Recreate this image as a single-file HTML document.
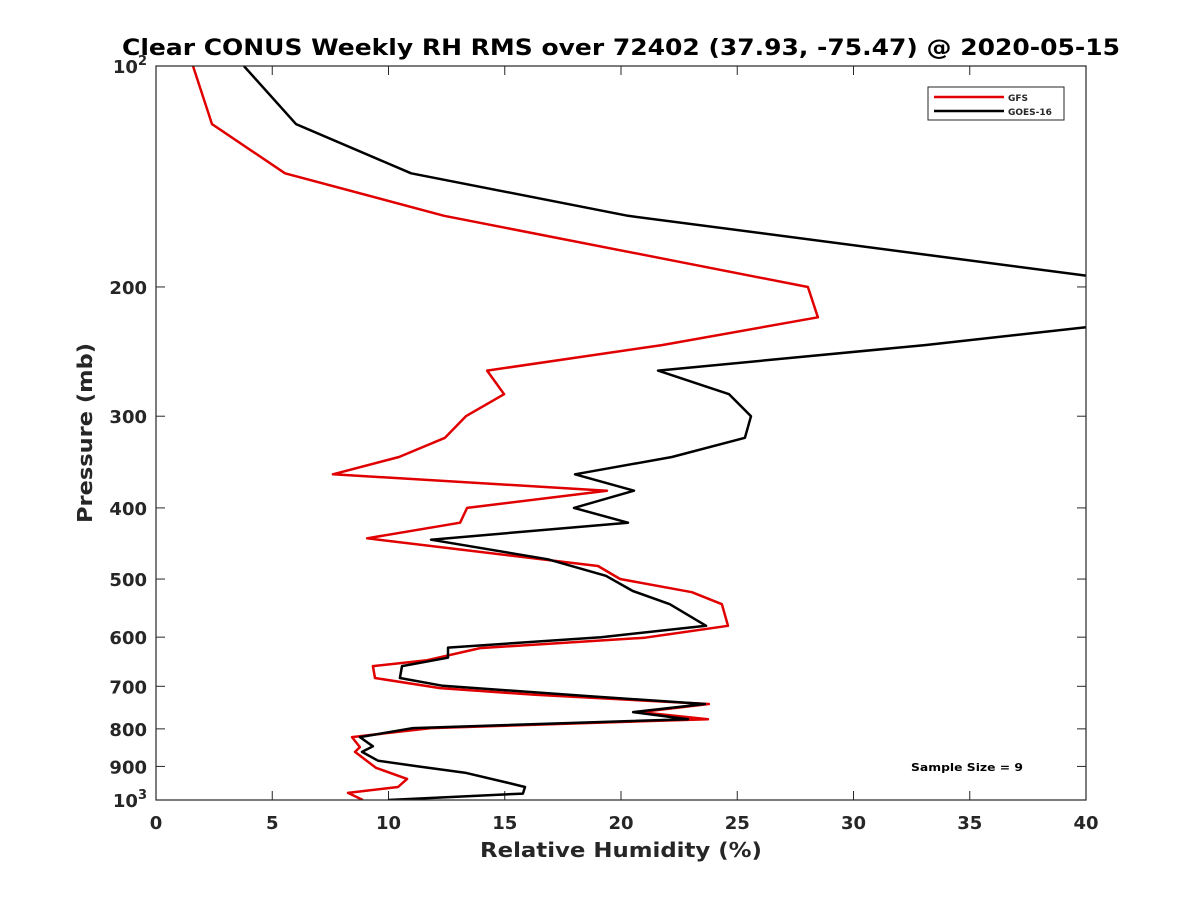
<!DOCTYPE html>
<html><head><meta charset="utf-8"><style>
body{margin:0;background:#fff;}
svg text{font-family:"DejaVu Sans","Liberation Sans",sans-serif;font-weight:bold;fill:#262626;}
</style></head><body>
<svg id="chart" width="1200" height="900" xmlns="http://www.w3.org/2000/svg">
<defs><clipPath id="clip"><rect x="156" y="66" width="930" height="734"/></clipPath></defs>
<rect width="1200" height="900" fill="#fff"/>
<text x="122" y="55" font-size="22" textLength="998" lengthAdjust="spacingAndGlyphs" style="fill:#000">Clear CONUS Weekly RH RMS over 72402 (37.93, -75.47) @ 2020-05-15</text>
<g id="axes"></g>
<g id="series" clip-path="url(#clip)"></g>
<rect x="156" y="66" width="930" height="734" fill="none" stroke="#262626" stroke-width="1.2"/>
<text x="480" y="857" font-size="20" textLength="282" lengthAdjust="spacingAndGlyphs">Relative Humidity (%)</text>
<text transform="translate(92,523) rotate(-90)" font-size="20" textLength="180" lengthAdjust="spacingAndGlyphs">Pressure (mb)</text>
<g>
<rect x="928" y="87" width="136" height="33" fill="#fff" stroke="#262626" stroke-width="1"/>
<line x1="934" y1="97" x2="1004" y2="97" stroke="#e00000" stroke-width="2.5"/>
<text x="1008" y="101" font-size="9">GFS</text>
<line x1="934" y1="111" x2="1004" y2="111" stroke="#000" stroke-width="2.5"/>
<text x="1008" y="115" font-size="9">GOES-16</text>
</g>
<text x="911" y="771" font-size="11" textLength="112" lengthAdjust="spacingAndGlyphs" style="fill:#000">Sample Size = 9</text>
</svg>
<script>
const xTicks=[0,5,10,15,20,25,30,35,40];
const yTicks=[100,200,300,400,500,600,700,800,900,1000];
const gfsP=[100,120,140,160,200,220,240,260,280,300,321,341,360,379,400,419,440,480,500,521,541,579,601,621,645,657,682,704,719,740,759,776,798,821,847,860,904,936,960,978,1000];
const gfsRH=[1.59,2.41,5.55,12.39,28.04,28.47,21.76,14.24,14.97,13.33,12.43,10.45,7.61,19.4,13.38,13.08,9.08,19.01,19.96,23.05,24.34,24.6,21.03,13.94,11.66,9.33,9.42,12.22,16.3,23.78,20.82,23.74,11.83,8.43,8.77,8.56,9.46,10.8,10.41,8.26,8.9];
const goesP=[100,120,140,160,193,208,227,240,260,280,300,321,341,360,379,400,419,442,470,495,519,541,579,600,620,640,657,682,699,722,740,759,776,798,821,845,860,884,900,918,944,960,980,1000];
const goesRH=[3.78,6.02,10.97,20.3,40,55,40,33.07,21.59,24.65,25.59,25.33,22.19,18.02,20.56,17.98,20.3,11.83,16.86,19.35,20.5,22.1,23.66,19.14,12.56,12.56,10.58,10.49,12.34,18.67,23.61,20.52,22.88,11.05,8.77,9.33,8.86,9.55,11.27,13.29,14.92,15.87,15.78,9.98];
const X0=156,X1=1086,Y0=66,Y1=800;
const xs=v=>X0+(v/40)*(X1-X0);
const ys=p=>Y0+(Math.log10(p)-2)*(Y1-Y0);
const NS="http://www.w3.org/2000/svg";
const axes=document.getElementById('axes'),ser=document.getElementById('series');
function mk(t,a,parent){const e=document.createElementNS(NS,t);for(const k in a)e.setAttribute(k,a[k]);parent.appendChild(e);return e;}
xTicks.forEach(v=>{const x=xs(v);
 const t1=mk('line',{x1:x,y1:Y1,x2:x,y2:Y1-9,stroke:'#262626'},axes);
 
 
 mk('line',{x1:x,y1:Y0,x2:x,y2:Y0+9,stroke:'#262626'},axes);
 const tx=mk('text',{x:x,y:829,'text-anchor':'middle','font-size':18},axes);tx.textContent=v;
 
 
});
yTicks.forEach(p=>{const y=ys(p);
 const t1=mk('line',{x1:X0,y1:y,x2:X0+9,y2:y,stroke:'#262626'},axes);
 
 
 mk('line',{x1:X1,y1:y,x2:X1-9,y2:y,stroke:'#262626'},axes);
 const tx=mk('text',{x:147,y:y+7,'text-anchor':'end','font-size':18},axes);
 if(p===100||p===1000){tx.innerHTML='10<tspan dy="-8" font-size="13">'+(p===100?2:3)+'</tspan>';}
 else tx.textContent=p;
 
 
});
function line(P,V,color,name){
 const pts=P.map((p,i)=>xs(V[i]).toFixed(1)+','+ys(p).toFixed(1)).join(' ');
 const l=mk('polyline',{points:pts,fill:'none',stroke:color,'stroke-width':2.5,'stroke-linejoin':'round'},ser);
 
 
}
line(gfsP,gfsRH,'#e00000','gfs-line');
line(goesP,goesRH,'#000','goes16-line');
</script>
</body></html>
